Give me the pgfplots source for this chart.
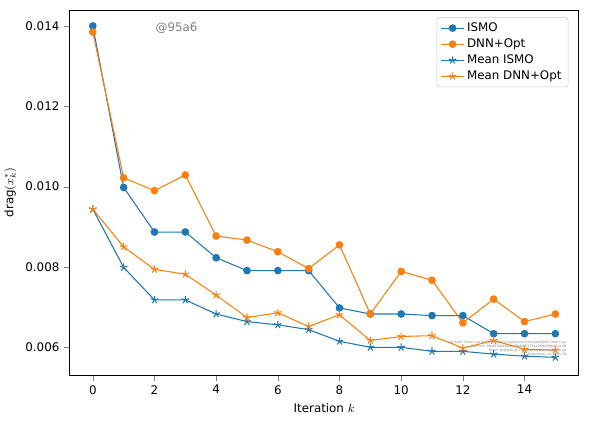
\documentclass[border=0pt]{standalone}
\usepackage{pgfplots}
\pgfplotsset{compat=1.18}
\usepackage{fontspec}
\setmainfont{DejaVu Sans}
\definecolor{mblue}{HTML}{1F77B4}
\definecolor{morange}{HTML}{FF7F0E}
\begin{document}
\begin{tikzpicture}
\begin{axis}[at={(0pt,0pt)},anchor=south west,
 scale only axis, width=386pt, height=277pt,
 xmin=-0.75, xmax=15.75, ymin=0.00531, ymax=0.0144,
 xtick={0,2,...,14}, ytick={0.006,0.008,0.010,0.012,0.014},
 scaled y ticks=false,
 yticklabel style={/pgf/number format/.cd,fixed,fixed zerofill,precision=3},
 /pgf/number format/assume math mode=true,
 tick label style={font=\small}, label style={font=\small},
 xlabel={Iteration $k$}, ylabel={drag$(x_k^*)$},
 tick align=outside, tick pos=left,
 legend style={at={(0.98,0.98)},anchor=north east,font=\small,draw=black!20,rounded corners=2pt},
 legend cell align=left]
\addplot[mblue,thick,mark=*,mark size=2.5pt] coordinates {(0,0.0140)(1,0.00998)(2,0.00887)(3,0.00887)(4,0.00823)(5,0.00791)(6,0.00791)(7,0.00791)(8,0.00698)(9,0.00683)(10,0.00683)(11,0.00679)(12,0.00679)(13,0.00634)(14,0.00634)(15,0.00634)};
\addlegendentry{ISMO}
\addplot[morange,thick,mark=*,mark size=2.5pt] coordinates {(0,0.01385)(1,0.01022)(2,0.0099)(3,0.01029)(4,0.00877)(5,0.00867)(6,0.00838)(7,0.00796)(8,0.00855)(9,0.00683)(10,0.00789)(11,0.00767)(12,0.00661)(13,0.0072)(14,0.00664)(15,0.00683)};
\addlegendentry{DNN+Opt}
\addplot[mblue,thick,mark=star,mark size=3pt] coordinates {(0,0.00944)(1,0.00799)(2,0.00718)(3,0.00718)(4,0.00683)(5,0.00664)(6,0.00656)(7,0.00644)(8,0.00615)(9,0.0060)(10,0.0060)(11,0.0059)(12,0.0059)(13,0.00583)(14,0.00578)(15,0.00575)};
\addlegendentry{Mean ISMO}
\addplot[morange,thick,mark=star,mark size=3pt] coordinates {(0,0.00944)(1,0.0085)(2,0.00794)(3,0.00782)(4,0.0073)(5,0.00674)(6,0.00686)(7,0.00652)(8,0.00681)(9,0.00617)(10,0.00627)(11,0.00629)(12,0.00598)(13,0.00617)(14,0.00595)(15,0.00593)};
\addlegendentry{Mean DNN+Opt}
\node[gray,anchor=west,font=\small] at (axis description cs:0.16,0.95) {@95a6};
\node[gray,anchor=south east,font=\fontsize{2.5}{3}\selectfont,align=right] at (axis description cs:0.985,0.04) {By Kjetil Olsen Lye @ ETHZ kjetil.o.lye@gmail.com and Kjetil Olsen Lye\\Commit: 09a0f7e6d3ea00f8b6d7f1734e26d4598bf7e1d9\\Repo: git@github.com:kjetil-lye/ismo\_airfoil.git\\Hostname: eu-login-19};
\end{axis}
\path[use as bounding box] (-47pt,-40pt) rectangle (397pt,284.5pt);
\end{tikzpicture}
\end{document}
